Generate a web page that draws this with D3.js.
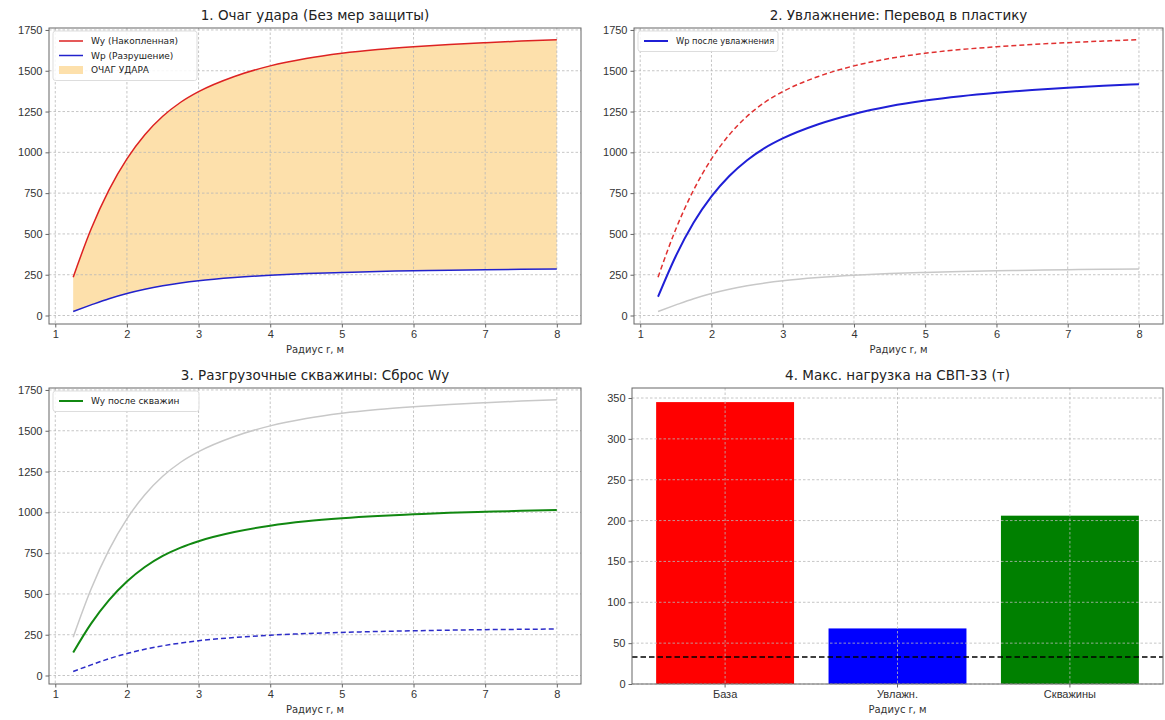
<!DOCTYPE html>
<html><head><meta charset="utf-8">
<script src="https://cdn.jsdelivr.net/npm/d3@7"></script>
<style>
html,body{margin:0;padding:0;background:#fff;}
svg{display:block;font-family:"DejaVu Sans","Noto Sans",sans-serif;}
</style></head>
<body>
<svg id="c" width="1165" height="720"></svg>
<script>
// ---- data ----
const radius   = [1.25, 1.5, 1.75, 2, 2.25, 2.5, 2.75, 3, 3.5, 4, 4.5, 5, 5.5, 6, 6.5, 7, 7.5, 8];
const wyBase   = [235, 530, 770, 960, 1108, 1221, 1307, 1372, 1465, 1530, 1575, 1607, 1630, 1647, 1661, 1672, 1682, 1690];
const wpBase   = [25, 65, 103, 135, 161, 182, 199, 213, 233, 247, 257, 264, 270, 274, 278, 281, 283, 285];
const wpHumid  = [115, 365, 570, 730, 855, 952, 1027, 1085, 1172, 1235, 1282, 1317, 1344, 1365, 1382, 1396, 1408, 1418];
const wyWells  = [141, 318, 462, 576, 665, 733, 784, 823, 879, 918, 945, 964, 978, 988, 997, 1003, 1009, 1014];
const barCats   = ["База", "Увлажн.", "Скважины"];
const barValues = [345, 68, 206];
const barColors = ["#ff0000", "#0000ff", "#008000"];
const limitLoad = 33;
const xTicks    = [1, 2, 3, 4, 5, 6, 7, 8];
const yTicksW   = [0, 250, 500, 750, 1000, 1250, 1500, 1750];
const yTicksBar = [0, 50, 100, 150, 200, 250, 300, 350];
const titles = ["1. Очаг удара (Без мер защиты)", "2. Увлажнение: Перевод в пластику",
                "3. Разгрузочные скважины: Сброс Wy", "4. Макс. нагрузка на СВП-33 (т)"];
const xLabel = "Радиус r, м";

const svg = d3.select("#c");
svg.append("rect").attr("width",1165).attr("height",720).attr("fill","#fff");

const boxes = [
  {l:49,  r:581,  t:28,  b:324},
  {l:634, r:1163, t:28,  b:324},
  {l:49,  r:581,  t:388, b:684},
  {l:632, r:1163, t:388, b:684}
];

function styleAxis(g){
  g.select(".domain").remove();
  g.selectAll(".tick line").attr("stroke","#555").attr("stroke-width",0.9);
  g.selectAll(".tick text").attr("fill","#333").style("font-size","11px");
}
function frame(b){
  svg.append("rect").attr("x",b.l).attr("y",b.t).attr("width",b.r-b.l).attr("height",b.b-b.t)
    .attr("fill","none").attr("stroke","#666").attr("stroke-width",1);
}
function title(b,i){
  svg.append("text").attr("x",(b.l+b.r)/2).attr("y",b.t-8).attr("text-anchor","middle")
    .style("font-size","13.5px").attr("fill","#222").text(titles[i]);
  svg.append("text").attr("x",(b.l+b.r)/2).attr("y",b.b+29).attr("text-anchor","middle")
    .style("font-size","10px").attr("fill","#333").text(xLabel);
}
function grid(b, xs, xv, ys, yv){
  const g = svg.append("g");
  xv.forEach(v=>g.append("line").attr("x1",xs(v)).attr("x2",xs(v)).attr("y1",b.t).attr("y2",b.b));
  yv.forEach(v=>g.append("line").attr("y1",ys(v)).attr("y2",ys(v)).attr("x1",b.l).attr("x2",b.r));
  g.selectAll("line").attr("stroke","#b8b8b8").attr("stroke-width",0.8).attr("stroke-dasharray","2.5,2");
}
function legend(x,y,w,items){
  const h = items.length*14.5+6;
  const g = svg.append("g");
  g.append("rect").attr("x",x).attr("y",y).attr("width",w).attr("height",h).attr("rx",2.5)
    .attr("fill","#fff").attr("fill-opacity",0.85).attr("stroke","#d4d4d4").attr("stroke-width",0.8);
  items.forEach((it,i)=>{
    const cy = y+10+i*14.5;
    if(it.type==="patch"){
      g.append("rect").attr("x",x+6).attr("y",cy-4).attr("width",24).attr("height",8).attr("fill",it.color);
    } else {
      g.append("line").attr("x1",x+6).attr("x2",x+30).attr("y1",cy).attr("y2",cy)
        .attr("stroke",it.color).attr("stroke-width",it.w||1.5);
    }
    g.append("text").attr("x",x+38).attr("y",cy+3.3).style("font-size",it.fs||"9px").attr("fill","#222").text(it.label);
  });
}
function linePanel(i, series, fill, leg){
  const b = boxes[i];
  const xs = d3.scaleLinear().domain([0.9125, 8.3375]).range([b.l,b.r]);
  const ys = d3.scaleLinear().domain([-52, 1762]).range([b.b,b.t]);
  if(fill){
    const area = d3.area().x((d,k)=>xs(radius[k])).y0((d,k)=>ys(fill.lo[k])).y1((d,k)=>ys(fill.hi[k])).curve(d3.curveMonotoneX);
    svg.append("path").attr("d",area(radius)).attr("fill",fill.color);
  }
  grid(b, xs, xTicks, ys, yTicksW);
  series.forEach(s=>{
    const line = d3.line().x((d,k)=>xs(radius[k])).y(d=>ys(d)).curve(d3.curveMonotoneX);
    svg.append("path").attr("d",line(s.data)).attr("fill","none").attr("stroke",s.color)
      .attr("stroke-width",s.w).attr("stroke-dasharray",s.dash||null);
  });
  const gx = svg.append("g").attr("transform",`translate(0,${b.b})`)
    .call(d3.axisBottom(xs).tickValues(xTicks).tickFormat(d3.format("d")).tickSize(3.5).tickPadding(3));
  styleAxis(gx);
  const gy = svg.append("g").attr("transform",`translate(${b.l},0)`)
    .call(d3.axisLeft(ys).tickValues(yTicksW).tickFormat(d3.format("d")).tickSize(3.5).tickPadding(3));
  styleAxis(gy);
  frame(b); title(b,i);
  if(leg) legend(leg.x, leg.y, leg.w, leg.items);
}

// Panel 1
linePanel(0, [
  {data: wyBase, color:"#dd2222", w:1.5},
  {data: wpBase, color:"#2222cc", w:1.5}
], {lo: wpBase, hi: wyBase, color:"#fde0ab"},
{x:53, y:31, w:144, items:[
  {label:"Wy (Накопленная)", color:"#dd2222"},
  {label:"Wp (Разрушение)", color:"#2222cc"},
  {label:"ОЧАГ УДАРА", color:"#fde0ab", type:"patch"}]});

// Panel 2
linePanel(1, [
  {data: wpBase, color:"#c8c8c8", w:1.5},
  {data: wyBase, color:"#e03030", w:1.5, dash:"5,3"},
  {data: wpHumid, color:"#1f1fd6", w:2}
], null,
{x:638, y:31, w:140, items:[{label:"Wp после увлажнения", color:"#1f1fd6", w:2, fs:"8.3px"}]});

// Panel 3
linePanel(2, [
  {data: wyBase, color:"#c8c8c8", w:1.5},
  {data: wpBase, color:"#2c2cc8", w:1.5, dash:"5,3"},
  {data: wyWells, color:"#118811", w:2}
], null,
{x:53, y:391, w:146, items:[{label:"Wy после скважин", color:"#118811", w:2}]});

// Panel 4
(function(){
  const b = boxes[3];
  const xs = d3.scaleBand().domain(barCats).range([b.l,b.r]).paddingInner(0.2).paddingOuter(0.14);
  const ys = d3.scaleLinear().domain([0, 362.25]).range([b.b,b.t]);
  svg.append("g").selectAll("rect").data(barValues).join("rect")
    .attr("x",(d,k)=>xs(barCats[k])).attr("width",xs.bandwidth())
    .attr("y",d=>ys(d)).attr("height",d=>ys(0)-ys(d)).attr("fill",(d,k)=>barColors[k]);
  const centers = barCats.map(c=>xs(c)+xs.bandwidth()/2);
  const g = svg.append("g");
  centers.forEach(cx=>g.append("line").attr("x1",cx).attr("x2",cx).attr("y1",b.t).attr("y2",b.b));
  yTicksBar.forEach(v=>g.append("line").attr("y1",ys(v)).attr("y2",ys(v)).attr("x1",b.l).attr("x2",b.r));
  g.selectAll("line").attr("stroke","#b8b8b8").attr("stroke-width",0.8).attr("stroke-dasharray","2.5,2");
  svg.append("line").attr("x1",b.l).attr("x2",b.r).attr("y1",ys(limitLoad)).attr("y2",ys(limitLoad))
    .attr("stroke","#000").attr("stroke-width",1.5).attr("stroke-dasharray","5.5,3");
  const gx = svg.append("g").attr("transform",`translate(0,${b.b})`)
    .call(d3.axisBottom(xs).tickSize(3.5).tickPadding(3));
  styleAxis(gx);
  const gy = svg.append("g").attr("transform",`translate(${b.l},0)`)
    .call(d3.axisLeft(ys).tickValues(yTicksBar).tickFormat(d3.format("d")).tickSize(3.5).tickPadding(3));
  styleAxis(gy);
  frame(b); title(b,3);
})();
</script>
</body></html>
